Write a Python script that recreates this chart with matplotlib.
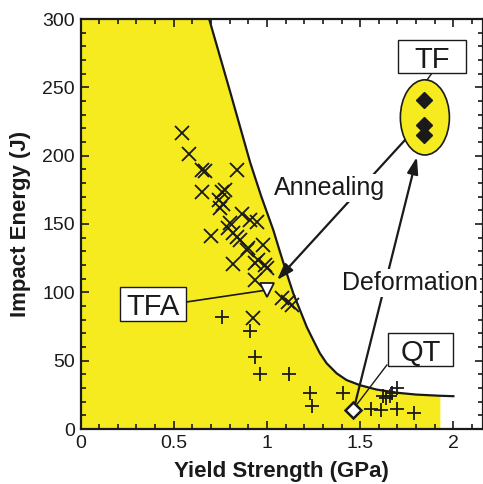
import matplotlib
matplotlib.use("Agg")
import matplotlib.pyplot as plt
from matplotlib.patches import Ellipse, Rectangle
from matplotlib.ticker import MultipleLocator

plt.rcParams['font.family'] = ['Liberation Sans', 'DejaVu Sans']

# ---- data ----
cross_x = [0.544, 0.582, 0.651, 0.668, 0.651, 0.759, 0.775, 0.743, 0.764, 0.839,
           0.700, 0.748, 0.802, 0.866, 0.818, 0.855, 0.818, 0.893, 0.946, 0.909,
           0.979, 0.839, 0.936, 0.989, 0.936, 1.080, 1.113, 1.134, 0.925, 0.791,
           0.952, 1.000, 0.898]
cross_y = [216.5, 201.2, 189.5, 188.7, 173.4, 173.4, 174.8, 167.5, 164.6, 189.5,
           141.2, 161.7, 150.7, 157.3, 143.4, 138.3, 120.7, 130.9, 151.4, 152.9,
           134.6, 140.5, 121.4, 120.0, 109.0, 95.8, 92.9, 90.7, 81.2, 147.0,
           123.6, 117.8, 132.4]

plus_x = [0.757, 0.909, 0.936, 0.965, 1.12, 1.23, 1.24, 1.41, 1.56, 1.61,
          1.62, 1.64, 1.66, 1.67, 1.695, 1.70, 1.79]
plus_y = [82, 72, 53, 40.5, 40.5, 26, 16.5, 26, 15, 14,
          24, 23, 24, 26, 30, 15, 12]

tfa_x, tfa_y = [1.0], [101.7]
qt_x, qt_y = [1.46], [14.0]
tf_x = [1.843, 1.843, 1.843]
tf_y = [240.7, 222.4, 215.0]

curve_x = [0.69, 0.80, 0.91, 0.97, 1.034, 1.07, 1.106, 1.141, 1.177, 1.213,
           1.248, 1.284, 1.32, 1.374, 1.427, 1.50, 1.59, 1.70, 1.80, 1.93, 2.00]
curve_y = [300, 248, 195, 170, 145.6, 129.5, 113.9, 99.3, 87.1, 74.8,
           65.1, 55.4, 48.1, 40.7, 35.8, 32.0, 28.8, 26.5, 25.2, 24.3, 24.0]
fill_right = 1.93

xticks = [0, 0.5, 1, 1.5, 2]
xticklabels = ["0", "0.5", "1", "1.5", "2"]
yticks = [0, 50, 100, 150, 200, 250, 300]

YELLOW = '#F5EB1E'
INK = '#1a1a1a'

fig = plt.figure(figsize=(4.83, 4.84), dpi=100)
ax = fig.add_axes([80.5/483, 55/484, (482.5-80.5)/483, (429-19)/484])
ax.set_xlim(0, 2.156)
ax.set_ylim(0, 300)

# yellow fill region
fx = [0, 0] + [x for x in curve_x if x <= fill_right] + [fill_right]
fy = [0, 300] + [y for x, y in zip(curve_x, curve_y) if x <= fill_right] + [0]
ax.fill(fx, fy, color=YELLOW, lw=0, zorder=1)

ax.plot(curve_x, curve_y, color=INK, lw=1.6, zorder=3, solid_joinstyle='round')

ax.plot(cross_x, cross_y, ls='none', marker='x', ms=9.5, mew=1.3, color=INK, zorder=4)
ax.plot(plus_x, plus_y, ls='none', marker='+', ms=9.5, mew=1.3, color=INK, zorder=4)

# ellipse around TF
ell = Ellipse((1.847, 228), 0.263, 55, facecolor=YELLOW, edgecolor=INK, lw=1.2, zorder=5)
ax.add_patch(ell)
ax.plot(tf_x, tf_y, ls='none', marker='D', ms=8.2, color=INK, mec=INK, zorder=6)

# arrows
ax.annotate('', xy=(1.054, 109), xytext=(1.74, 211.4),
            arrowprops=dict(arrowstyle='-|>,head_length=1.0,head_width=0.33', color=INK, lw=1.6,
                            shrinkA=0, shrinkB=0), zorder=5)
ax.annotate('', xy=(1.804, 199), xytext=(1.47, 17),
            arrowprops=dict(arrowstyle='-|>,head_length=1.0,head_width=0.33', color=INK, lw=1.6,
                            shrinkA=0, shrinkB=0), zorder=5)

ax.text(1.338, 176, 'Annealing', fontsize=18, ha='center', va='center', color=INK,
        bbox=dict(boxstyle='square,pad=0.08', fc='white', ec='none'), zorder=6)
ax.text(1.766, 107, 'Deformation', fontsize=18, ha='center', va='center', color=INK,
        bbox=dict(boxstyle='square,pad=0.08', fc='white', ec='none'), zorder=6)

# connector lines
ax.plot([1.885, 1.858], [260.4, 255.3], color=INK, lw=1.0, zorder=5)
ax.plot([1.643, 1.46], [46.8, 14.0], color=INK, lw=1.0, zorder=5)
ax.plot([0.566, 1.0], [92.9, 101.7], color=INK, lw=1.2, zorder=5)

# markers for TFA, QT
ax.plot(tfa_x, tfa_y, ls='none', marker='v', ms=10, mfc='white', mec=INK, mew=1.3, zorder=7)
ax.plot(qt_x, qt_y, ls='none', marker='D', ms=8.5, mfc='white', mec=INK, mew=1.8, zorder=7)

# label boxes
def label_box(x0, x1, y0, y1, text):
    ax.add_patch(Rectangle((x0, y0), x1 - x0, y1 - y0, fc='white', ec=INK, lw=1.0, zorder=8))
    ax.text((x0 + x1) / 2, (y0 + y1) / 2, text, fontsize=21, ha='center', va='center_baseline',
            color=INK, zorder=9)

label_box(1.702, 2.067, 260.4, 284.6, 'TF')
label_box(1.649, 1.997, 46.1, 70.2, 'QT')
label_box(0.212, 0.566, 79.0, 103.9, 'TFA')

# axes styling
ax.set_xticks(xticks)
ax.set_xticklabels(xticklabels)
ax.set_yticks(yticks)
ax.xaxis.set_minor_locator(MultipleLocator(0.1))
ax.yaxis.set_minor_locator(MultipleLocator(10))
ax.tick_params(which='both', direction='in', top=True, right=True, width=1.2, colors=INK,
               labelsize=14, pad=4)
ax.tick_params(which='major', length=6)
ax.tick_params(which='minor', length=3.5)
for s in ax.spines.values():
    s.set_linewidth(1.6)
    s.set_color(INK)
    s.set_zorder(10)

ax.set_xlabel('Yield Strength (GPa)', fontsize=16, fontweight='bold', labelpad=7, color=INK)
ax.set_ylabel('Impact Energy (J)', fontsize=16, fontweight='bold', labelpad=8, color=INK)

fig.savefig('out.png', dpi=100)
